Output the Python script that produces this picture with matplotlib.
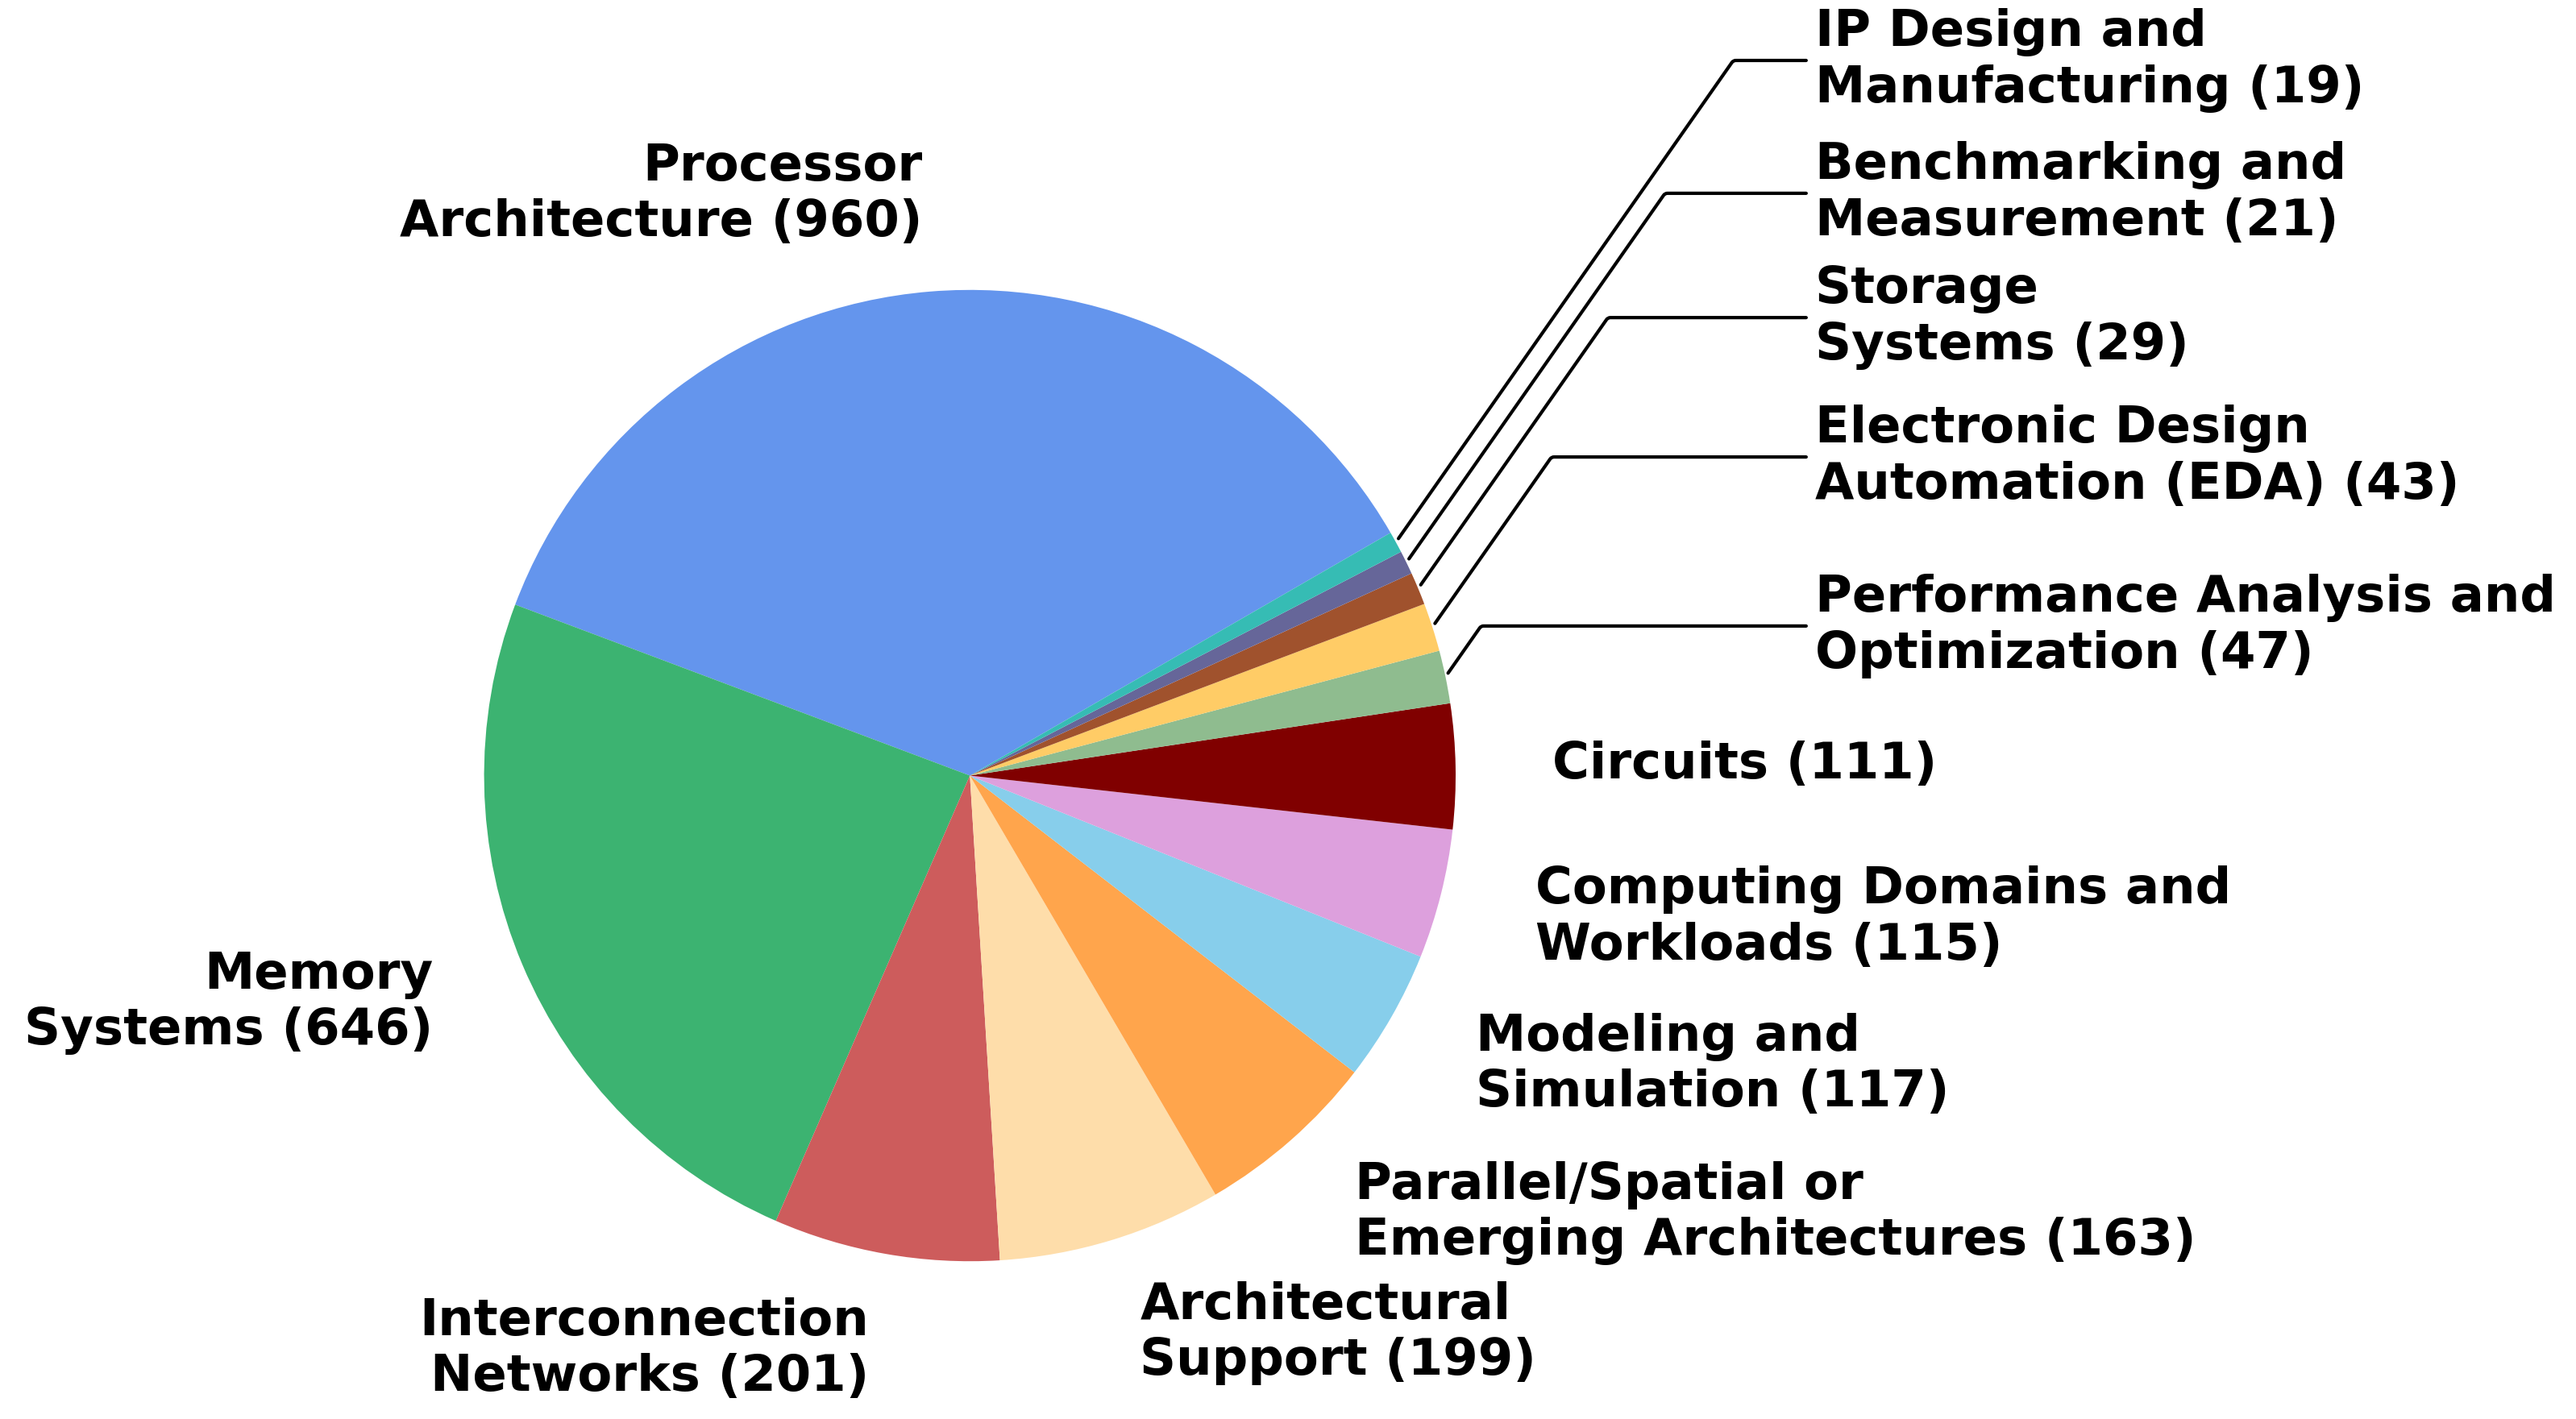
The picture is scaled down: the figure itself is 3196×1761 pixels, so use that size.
import numpy as np
import matplotlib
matplotlib.use("Agg")
import matplotlib.pyplot as plt

categories = [
    "Processor\nArchitecture",
    "Memory\nSystems",
    "Interconnection\nNetworks",
    "Architectural\nSupport",
    "Parallel/Spatial or\nEmerging Architectures",
    "Modeling and\nSimulation",
    "Computing Domains and\nWorkloads",
    "Circuits",
    "Performance Analysis and\nOptimization",
    "Electronic Design\nAutomation (EDA)",
    "Storage\nSystems",
    "Benchmarking and\nMeasurement",
    "IP Design and\nManufacturing",
]
counts = [960, 646, 201, 199, 163, 117, 115, 111, 47, 43, 29, 21, 19]
colors = ["#6495ED", "#3CB371", "#CD5C5C", "#FEDDAA", "#FFA54C", "#87CEEB",
          "#DDA0DD", "#800000", "#8FBC8F", "#FFCC66", "#A0522D", "#666699",
          "#36BCB4"]

n_small = 5  # last five wedges get leader-line labels
small_label_y = [0.308, 0.656, 0.943, 1.199, 1.4725]
small_label_x = 1.74
FS = 22.5

labels = [f"{c} ({v})" for c, v in zip(categories, counts)]
pie_labels = labels[:-n_small] + [""] * n_small

fig = plt.figure(figsize=(15.98, 8.805), dpi=200)
ax = fig.add_axes([0, 0, 1, 1])

wedges, texts = ax.pie(counts, labels=pie_labels, colors=colors, startangle=30,
                       counterclock=True, labeldistance=1.2,
                       textprops=dict(fontsize=FS, fontweight="bold",
                                      family="DejaVu Sans"))

cx, cy, R = 1203.3, 962.5, 602.7
W, H = 3196, 1761
ax.set_xlim(-cx / R, (W - cx) / R)
ax.set_ylim(-(H - cy) / R, cy / R)
ax.set_aspect("auto")
ax.axis("off")

for w, lab, ty in zip(wedges[-n_small:], labels[-n_small:], small_label_y):
    mid = np.deg2rad((w.theta1 + w.theta2) / 2)
    xy = (np.cos(mid), np.sin(mid))
    ax.annotate(lab, xy=xy, xytext=(small_label_x, ty), ha="left", va="center",
                fontsize=FS, fontweight="bold", family="DejaVu Sans",
                arrowprops=dict(arrowstyle="-", color="black", lw=1.5,
                                connectionstyle="angle,angleA=0,angleB=55,rad=3"))

fig.savefig("out.png", dpi=200)
